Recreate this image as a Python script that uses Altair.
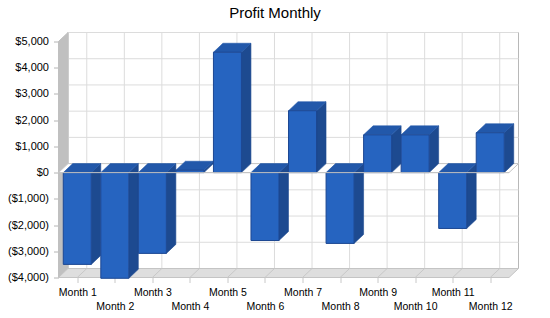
import altair as alt
import pandas as pd

# ---- data -----------------------------------------------------------------
months = ["Month 1", "Month 2", "Month 3", "Month 4", "Month 5", "Month 6",
          "Month 7", "Month 8", "Month 9", "Month 10", "Month 11", "Month 12"]
profit = [-3500, -4030, -3080, 90, 4590, -2590, 2360, -2700, 1440, 1440, -2130, 1520]
y_ticks = [-4000, -3000, -2000, -1000, 0, 1000, 2000, 3000, 4000, 5000]

# ---- style / layout ---------------------------------------------------------
FONT = "Liberation Sans"
FRONT, TOP, SIDE, EDGE = "#2664c0", "#2258aa", "#1d4a90", "#1c4792"
GRID, WALL, FLOOR, LINE = "#dcdcdc", "#c0c0c0", "#dedede", "#c4c4c4"

PLOT_W, PLOT_H = 450.5, 236.0      # front plane of the 3D box
PAD_L, PAD_T = 58.5, 41.5
DEPTH_X, DEPTH_Y = 9.5, 9.0         # pixel depth of the box / bars
BAR_W = 28.0

n = len(months)
X_MIN, X_MAX = 0.5, n + 0.5
Y_MIN, Y_MAX = y_ticks[0], y_ticks[-1]
ux = (X_MAX - X_MIN) / PLOT_W       # data units per pixel
uy = (Y_MAX - Y_MIN) / PLOT_H
dx, dy = DEPTH_X * ux, DEPTH_Y * uy
half = BAR_W / 2 * ux

bars = pd.DataFrame({"i": list(range(1, n + 1)), "month": months, "profit": profit})
bars["x0"] = bars["i"] - half
bars["x1"] = bars["i"] + half
bars["hi"] = bars["profit"].clip(lower=0)
bars["lo"] = bars["profit"].clip(upper=0)


def flat_face(key, xa, xb, level):
    """Horizontal parallelogram at `level` spanning xa..xb, receding into depth."""
    return [
        {"k": key, "x": xa, "yt": level, "yb": level},
        {"k": key, "x": xa + dx, "yt": level + dy, "yb": level},
        {"k": key, "x": xb, "yt": level + dy, "yb": level},
        {"k": key, "x": xb + dx, "yt": level + dy, "yb": level + dy},
    ]


def upright_face(key, x, hi, lo):
    """Vertical parallelogram at x from lo..hi, receding into depth."""
    return [
        {"k": key, "x": x, "yt": hi, "yb": lo},
        {"k": key, "x": x + dx, "yt": hi + dy, "yb": lo + dy},
    ]


side_rows, top_rows = [], []
for r in bars.itertuples():
    side_rows += upright_face(f"s{r.i}", r.x1, r.hi, r.lo)
    top_rows += flat_face(f"t{r.i}", r.x0, r.x1, r.hi)
sides = pd.DataFrame(side_rows)
tops = pd.DataFrame(top_rows)
left_wall = pd.DataFrame(upright_face("w", X_MIN, Y_MAX, Y_MIN))
floor = pd.DataFrame(flat_face("f", X_MIN, X_MAX, Y_MIN))
zero_plane = pd.DataFrame(flat_face("z", X_MIN, X_MAX, 0))

hgrid = pd.DataFrame({"v": y_ticks})
hgrid["vb"] = hgrid["v"] + dy
hgrid["xa"] = X_MIN + dx
hgrid["xb"] = X_MAX + dx
vgrid = pd.DataFrame({"i": bars["i"]})
vgrid["xb"] = vgrid["i"] + dx
vgrid["ya"] = Y_MIN + dy
vgrid["yb"] = Y_MAX + dy
vgrid["yf"] = Y_MIN

one = pd.DataFrame({"_": [0]})

# ---- scales & axes ------------------------------------------------------------
x_scale = alt.Scale(domain=[X_MIN, X_MAX], nice=False, zero=False)
y_scale = alt.Scale(domain=[Y_MIN, Y_MAX], nice=False, zero=False)

month_list = "[" + ",".join(f"'{m}'" for m in months) + "]"
x_axis = alt.Axis(
    values=list(range(1, n + 1)),
    labelExpr=f"datum.value % 2 == 0 ? ['', {month_list}[datum.value - 1]] : {month_list}[datum.value - 1]",
    title=None, grid=False, domain=False, ticks=True, tickSize=5, tickColor="#c8c8c8",
    labelPadding=5, labelFont=FONT, labelFontSize=10.5, labelColor="#000000",
    labelBaseline="top", labelLineHeight=14, labelAngle=0, labelOverlap=False,
    labelFlush=False, labelBound=False,
)
y_axis = alt.Axis(
    values=y_ticks,
    labelExpr="datum.value < 0 ? '(' + format(-datum.value, '$,') + ')' : format(datum.value, '$,')",
    title=None, grid=False, domain=False, ticks=True, tickSize=5, tickColor="#b4b4b4",
    labelPadding=5, labelFont=FONT, labelFontSize=11, labelColor="#000000",
    labelOverlap=False, labelFlush=False, labelBound=False,
)


def X(*args, **kw):
    return alt.X(*args, scale=x_scale, axis=x_axis, **kw)


def Y(*args, **kw):
    return alt.Y(*args, scale=y_scale, axis=y_axis, **kw)


# ---- layers -------------------------------------------------------------------
back_wall = alt.Chart(one).mark_rect(fill="#ffffff", stroke="#b8b8b8", strokeWidth=1).encode(
    x=X(datum=X_MIN + dx), x2=alt.X2(datum=X_MAX + dx),
    y=Y(datum=Y_MIN + dy), y2=alt.Y2(datum=Y_MAX + dy),
)
grid_h = alt.Chart(hgrid).mark_rule(color=GRID, strokeWidth=1).encode(
    x=X("xa:Q"), x2="xb:Q", y=Y("vb:Q"),
)
grid_v = alt.Chart(vgrid).mark_rule(color=GRID, strokeWidth=1).encode(
    x=X("xb:Q"), y=Y("ya:Q"), y2="yb:Q",
)


def area(df, fill, stroke, width=1.0):
    return alt.Chart(df).mark_area(
        orient="vertical", fill=fill, stroke=stroke, strokeWidth=width, strokeJoin="miter",
    ).encode(
        x=X("x:Q"), y=Y("yt:Q", stack=False), y2="yb:Q", detail="k:N",
    )


wall_layer = area(left_wall, WALL, WALL)
floor_layer = area(floor, FLOOR, LINE)
floor_ticks = alt.Chart(vgrid).mark_rule(color="#c8c8c8", strokeWidth=1).encode(
    x=X("i:Q"), x2="xb:Q", y=Y("yf:Q"), y2="ya:Q",
)
zero_layer = area(zero_plane, "#ffffff", LINE)
side_layer = area(sides, SIDE, SIDE, 0.6)
top_layer = area(tops, TOP, TOP, 0.6)
front_layer = alt.Chart(bars).mark_rect(fill=FRONT, stroke=EDGE, strokeWidth=1).encode(
    x=X("x0:Q"), x2="x1:Q", y=Y("profit:Q"), y2=alt.Y2(datum=0),
    tooltip=["month:N", alt.Tooltip("profit:Q", format="$,")],
)
zero_line = alt.Chart(one).mark_rule(color=LINE, strokeWidth=1).encode(
    x=X(datum=X_MIN), x2=alt.X2(datum=X_MAX), y=Y(datum=0),
)

chart = alt.layer(
    back_wall, grid_h, grid_v, wall_layer, floor_layer, floor_ticks,
    zero_layer, side_layer, top_layer, front_layer, zero_line,
).properties(
    width=PLOT_W,
    height=PLOT_H,
    autosize=alt.AutoSizeParams(type="none"),
    padding={"left": PAD_L, "top": PAD_T, "right": 550 - PAD_L - PLOT_W, "bottom": 318 - PAD_T - PLOT_H},
    background="#ffffff",
    title=alt.Title(
        "Profit Monthly", font=FONT, fontSize=15, fontWeight="normal", color="#000000",
        anchor="middle", dx=275 - PAD_L - PLOT_W / 2, dy=-6,
    ),
).configure_view(stroke="transparent")

chart.save("out.html", embed_options={"renderer": "svg", "actions": False})
